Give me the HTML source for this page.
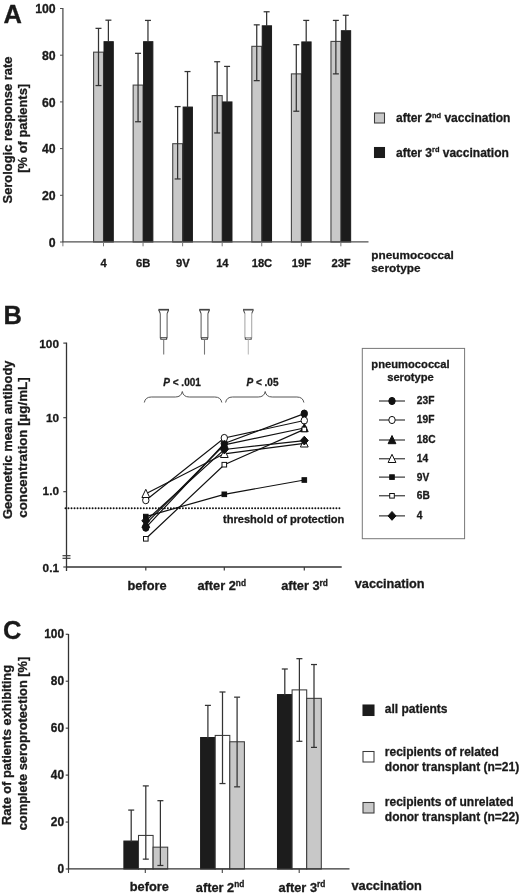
<!DOCTYPE html>
<html><head><meta charset="utf-8"><title>Figure</title>
<style>
html,body{margin:0;padding:0;background:#fff;}
svg{display:block;}
text{font-family:"Liberation Sans",sans-serif;fill:#1a1a1a;stroke:#1a1a1a;stroke-width:0.3px;}
</style></head><body>
<svg width="520" height="895" viewBox="0 0 520 895">
<rect x="0" y="0" width="520" height="895" fill="#fff"/>
<text x="3.6" y="23" font-size="25.5" text-anchor="start" font-weight="bold" >A</text>
<rect x="93.60" y="52.16" width="9.90" height="189.84" fill="#c8c8c8" stroke="#444" stroke-width="1.1"/>
<rect x="104.00" y="41.69" width="9.30" height="200.31" fill="#1c1c1c" stroke="#1c1c1c" stroke-width="1"/>
<line x1="98.5" y1="28.347499999999997" x2="98.5" y2="85.555" stroke="#333" stroke-width="1.25" />
<line x1="95.5" y1="28.347499999999997" x2="101.5" y2="28.347499999999997" stroke="#333" stroke-width="1.25" />
<line x1="95.5" y1="85.555" x2="101.5" y2="85.555" stroke="#333" stroke-width="1.25" />
<line x1="108.4" y1="20.17500000000001" x2="108.4" y2="42.19" stroke="#333" stroke-width="1.25" />
<line x1="105.4" y1="20.17500000000001" x2="111.4" y2="20.17500000000001" stroke="#333" stroke-width="1.25" />
<rect x="133.16" y="85.09" width="9.90" height="156.91" fill="#c8c8c8" stroke="#444" stroke-width="1.1"/>
<rect x="143.56" y="41.69" width="9.30" height="200.31" fill="#1c1c1c" stroke="#1c1c1c" stroke-width="1"/>
<line x1="138.06" y1="53.33200000000002" x2="138.06" y2="121.7475" stroke="#333" stroke-width="1.25" />
<line x1="135.06" y1="53.33200000000002" x2="141.06" y2="53.33200000000002" stroke="#333" stroke-width="1.25" />
<line x1="135.06" y1="121.7475" x2="141.06" y2="121.7475" stroke="#333" stroke-width="1.25" />
<line x1="147.96" y1="20.408500000000004" x2="147.96" y2="42.19" stroke="#333" stroke-width="1.25" />
<line x1="144.96" y1="20.408500000000004" x2="150.96" y2="20.408500000000004" stroke="#333" stroke-width="1.25" />
<rect x="172.72" y="143.70" width="9.90" height="98.30" fill="#c8c8c8" stroke="#444" stroke-width="1.1"/>
<rect x="183.12" y="107.07" width="9.30" height="134.93" fill="#1c1c1c" stroke="#1c1c1c" stroke-width="1"/>
<line x1="177.62" y1="106.57" x2="177.62" y2="178.95499999999998" stroke="#333" stroke-width="1.25" />
<line x1="174.62" y1="106.57" x2="180.62" y2="106.57" stroke="#333" stroke-width="1.25" />
<line x1="174.62" y1="178.95499999999998" x2="180.62" y2="178.95499999999998" stroke="#333" stroke-width="1.25" />
<line x1="187.52" y1="71.54500000000002" x2="187.52" y2="107.57" stroke="#333" stroke-width="1.25" />
<line x1="184.52" y1="71.54500000000002" x2="190.52" y2="71.54500000000002" stroke="#333" stroke-width="1.25" />
<rect x="212.28" y="95.60" width="9.90" height="146.40" fill="#c8c8c8" stroke="#444" stroke-width="1.1"/>
<rect x="222.68" y="101.93" width="9.30" height="140.07" fill="#1c1c1c" stroke="#1c1c1c" stroke-width="1"/>
<line x1="217.18" y1="61.738" x2="217.18" y2="132.9555" stroke="#333" stroke-width="1.25" />
<line x1="214.18" y1="61.738" x2="220.18" y2="61.738" stroke="#333" stroke-width="1.25" />
<line x1="214.18" y1="132.9555" x2="220.18" y2="132.9555" stroke="#333" stroke-width="1.25" />
<line x1="227.08" y1="66.40799999999999" x2="227.08" y2="102.43299999999999" stroke="#333" stroke-width="1.25" />
<line x1="224.08" y1="66.40799999999999" x2="230.08" y2="66.40799999999999" stroke="#333" stroke-width="1.25" />
<rect x="251.84" y="46.33" width="9.90" height="195.67" fill="#c8c8c8" stroke="#444" stroke-width="1.1"/>
<rect x="262.24" y="25.81" width="9.30" height="216.19" fill="#1c1c1c" stroke="#1c1c1c" stroke-width="1"/>
<line x1="256.74" y1="24.845" x2="256.74" y2="80.65150000000003" stroke="#333" stroke-width="1.25" />
<line x1="253.74" y1="24.845" x2="259.74" y2="24.845" stroke="#333" stroke-width="1.25" />
<line x1="253.74" y1="80.65150000000003" x2="259.74" y2="80.65150000000003" stroke="#333" stroke-width="1.25" />
<line x1="266.64" y1="11.769000000000005" x2="266.64" y2="26.312000000000012" stroke="#333" stroke-width="1.25" />
<line x1="263.64" y1="11.769000000000005" x2="269.64" y2="11.769000000000005" stroke="#333" stroke-width="1.25" />
<rect x="291.40" y="73.88" width="9.90" height="168.12" fill="#c8c8c8" stroke="#444" stroke-width="1.1"/>
<rect x="301.80" y="41.92" width="9.30" height="200.08" fill="#1c1c1c" stroke="#1c1c1c" stroke-width="1"/>
<line x1="296.3" y1="44.692499999999995" x2="296.3" y2="111.24000000000001" stroke="#333" stroke-width="1.25" />
<line x1="293.3" y1="44.692499999999995" x2="299.3" y2="44.692499999999995" stroke="#333" stroke-width="1.25" />
<line x1="293.3" y1="111.24000000000001" x2="299.3" y2="111.24000000000001" stroke="#333" stroke-width="1.25" />
<line x1="306.2" y1="20.408500000000004" x2="306.2" y2="42.42349999999999" stroke="#333" stroke-width="1.25" />
<line x1="303.2" y1="20.408500000000004" x2="309.2" y2="20.408500000000004" stroke="#333" stroke-width="1.25" />
<rect x="330.96" y="41.42" width="9.90" height="200.58" fill="#c8c8c8" stroke="#444" stroke-width="1.1"/>
<rect x="341.36" y="30.72" width="9.30" height="211.28" fill="#1c1c1c" stroke="#1c1c1c" stroke-width="1"/>
<line x1="335.86" y1="20.408500000000004" x2="335.86" y2="73.88" stroke="#333" stroke-width="1.25" />
<line x1="332.86" y1="20.408500000000004" x2="338.86" y2="20.408500000000004" stroke="#333" stroke-width="1.25" />
<line x1="332.86" y1="73.88" x2="338.86" y2="73.88" stroke="#333" stroke-width="1.25" />
<line x1="345.76" y1="15.271500000000003" x2="345.76" y2="31.21549999999999" stroke="#333" stroke-width="1.25" />
<line x1="342.76" y1="15.271500000000003" x2="348.76" y2="15.271500000000003" stroke="#333" stroke-width="1.25" />
<line x1="62.9" y1="8" x2="62.9" y2="242.5" stroke="#505050" stroke-width="1.3" />
<line x1="62.5" y1="241.8" x2="368.5" y2="241.8" stroke="#505050" stroke-width="1.3" />
<line x1="60" y1="242.0" x2="63" y2="242.0" stroke="#505050" stroke-width="1" />
<text x="55.7" y="246.8" font-size="12.3" text-anchor="end" font-weight="bold" >0</text>
<line x1="60" y1="195.3" x2="63" y2="195.3" stroke="#505050" stroke-width="1" />
<text x="55.7" y="200.10000000000002" font-size="12.3" text-anchor="end" font-weight="bold" >20</text>
<line x1="60" y1="148.6" x2="63" y2="148.6" stroke="#505050" stroke-width="1" />
<text x="55.7" y="153.4" font-size="12.3" text-anchor="end" font-weight="bold" >40</text>
<line x1="60" y1="101.9" x2="63" y2="101.9" stroke="#505050" stroke-width="1" />
<text x="55.7" y="106.7" font-size="12.3" text-anchor="end" font-weight="bold" >60</text>
<line x1="60" y1="55.19999999999999" x2="63" y2="55.19999999999999" stroke="#505050" stroke-width="1" />
<text x="55.7" y="59.999999999999986" font-size="12.3" text-anchor="end" font-weight="bold" >80</text>
<line x1="60" y1="8.5" x2="63" y2="8.5" stroke="#505050" stroke-width="1" />
<text x="55.7" y="13.3" font-size="12.3" text-anchor="end" font-weight="bold" >100</text>
<line x1="103.5" y1="242" x2="103.5" y2="246.3" stroke="#777" stroke-width="1" />
<line x1="143.06" y1="242" x2="143.06" y2="246.3" stroke="#777" stroke-width="1" />
<line x1="182.62" y1="242" x2="182.62" y2="246.3" stroke="#777" stroke-width="1" />
<line x1="222.18" y1="242" x2="222.18" y2="246.3" stroke="#777" stroke-width="1" />
<line x1="261.74" y1="242" x2="261.74" y2="246.3" stroke="#777" stroke-width="1" />
<line x1="301.3" y1="242" x2="301.3" y2="246.3" stroke="#777" stroke-width="1" />
<line x1="340.86" y1="242" x2="340.86" y2="246.3" stroke="#777" stroke-width="1" />
<line x1="62.9" y1="242" x2="62.9" y2="246.3" stroke="#777" stroke-width="1" />
<text x="103.7" y="266.9" font-size="11.2" text-anchor="middle" font-weight="bold" >4</text>
<text x="143.26" y="266.9" font-size="11.2" text-anchor="middle" font-weight="bold" >6B</text>
<text x="182.82" y="266.9" font-size="11.2" text-anchor="middle" font-weight="bold" >9V</text>
<text x="222.38" y="266.9" font-size="11.2" text-anchor="middle" font-weight="bold" >14</text>
<text x="261.94" y="266.9" font-size="11.2" text-anchor="middle" font-weight="bold" >18C</text>
<text x="301.5" y="266.9" font-size="11.2" text-anchor="middle" font-weight="bold" >19F</text>
<text x="341.06" y="266.9" font-size="11.2" text-anchor="middle" font-weight="bold" >23F</text>
<text x="371.3" y="258.7" font-size="11.8" text-anchor="start" font-weight="bold" >pneumococcal</text>
<text x="371.3" y="272.4" font-size="11.8" text-anchor="start" font-weight="bold" >serotype</text>
<text transform="translate(12.3 130) rotate(-90)" font-size="12.9" text-anchor="middle" font-weight="bold">Serologic response rate</text>
<text transform="translate(27 128.3) rotate(-90)" font-size="12.9" text-anchor="middle" font-weight="bold">[% of patients]</text>
<rect x="374.50" y="113.00" width="10.00" height="10.00" fill="#c8c8c8" stroke="#3a3a3a" stroke-width="1.05"/>
<rect x="374.50" y="147.50" width="10.00" height="10.00" fill="#1c1c1c" stroke="#1c1c1c" stroke-width="1.05"/>
<text x="396" y="122" font-size="12" text-anchor="start" font-weight="bold" >after 2<tspan font-size="7.4" dy="-4.1">nd</tspan><tspan dy="4.1"> vaccination</tspan></text>
<text x="396" y="156.5" font-size="12" text-anchor="start" font-weight="bold" >after 3<tspan font-size="7.4" dy="-4.1">rd</tspan><tspan dy="4.1"> vaccination</tspan></text>
<text x="3.4" y="324" font-size="25.5" text-anchor="start" font-weight="bold" >B</text>
<line x1="66.5" y1="342.6" x2="66.5" y2="571" stroke="#333" stroke-width="1.3" />
<line x1="66.0" y1="567" x2="341.7" y2="567" stroke="#333" stroke-width="1.4" />
<line x1="63.3" y1="343.1" x2="66.5" y2="343.1" stroke="#333" stroke-width="1.1" />
<text x="59.0" y="347.9" font-size="11.8" text-anchor="end" font-weight="bold" >100</text>
<line x1="63.3" y1="417.7" x2="66.5" y2="417.7" stroke="#333" stroke-width="1.1" />
<text x="59.0" y="422.2" font-size="11.8" text-anchor="end" font-weight="bold" >10</text>
<line x1="63.3" y1="491.7" x2="66.5" y2="491.7" stroke="#333" stroke-width="1.1" />
<text x="59.0" y="495.1" font-size="11.8" text-anchor="end" font-weight="bold" >1.0</text>
<line x1="63.3" y1="567" x2="66.5" y2="567" stroke="#333" stroke-width="1.1" />
<text x="59.0" y="571.7" font-size="11.8" text-anchor="end" font-weight="bold" >0.1</text>
<line x1="62.5" y1="555.7" x2="70.5" y2="555.7" stroke="#3a3a3a" stroke-width="1.2" />
<line x1="62.5" y1="558.3" x2="70.5" y2="558.3" stroke="#3a3a3a" stroke-width="1.2" />
<line x1="65.5" y1="508.2" x2="342" y2="508.2" stroke="#111" stroke-width="1.95" stroke-linecap="round" stroke-dasharray="0.01 3"/>
<text x="223" y="522.7" font-size="11.08" text-anchor="start" font-weight="bold" >threshold of protection</text>
<line x1="145.8" y1="567" x2="145.8" y2="570.5" stroke="#3a3a3a" stroke-width="1.2" />
<line x1="224.3" y1="567" x2="224.3" y2="570.5" stroke="#3a3a3a" stroke-width="1.2" />
<line x1="304.3" y1="567" x2="304.3" y2="570.5" stroke="#3a3a3a" stroke-width="1.2" />
<text x="147" y="589.6" font-size="12.8" text-anchor="middle" font-weight="bold" >before</text>
<text x="197.4" y="589.6" font-size="12.8" text-anchor="start" font-weight="bold" >after 2<tspan font-size="8.3" dy="-4.1">nd</tspan></text>
<text x="281.2" y="589.6" font-size="12.8" text-anchor="start" font-weight="bold" >after 3<tspan font-size="8.3" dy="-4.1">rd</tspan></text>
<text x="354.8" y="588.3" font-size="12.7" text-anchor="start" font-weight="bold" >vaccination</text>
<text transform="translate(11.5 439.8) rotate(-90)" font-size="12.92" text-anchor="middle" font-weight="bold">Geometric mean antibody</text>
<text transform="translate(26.9 447.6) rotate(-90)" font-size="13.35" text-anchor="middle" font-weight="bold">concentration [µg/mL]</text>
<polyline points="145.8,527.7 224.3,443.5 304.3,413.6" fill="none" stroke="#111" stroke-width="1.2"/>
<ellipse cx="145.8" cy="527.7" rx="3.2" ry="3.6" fill="#111" stroke="#111" stroke-width="1"/>
<ellipse cx="224.3" cy="443.5" rx="3.2" ry="3.6" fill="#111" stroke="#111" stroke-width="1"/>
<ellipse cx="304.3" cy="413.6" rx="3.2" ry="3.6" fill="#111" stroke="#111" stroke-width="1"/>
<polyline points="145.8,500.2 224.3,438 304.3,420.5" fill="none" stroke="#111" stroke-width="1.2"/>
<ellipse cx="145.8" cy="500.2" rx="3.2" ry="3.6" fill="#fff" stroke="#111" stroke-width="1"/>
<ellipse cx="224.3" cy="438" rx="3.2" ry="3.6" fill="#fff" stroke="#111" stroke-width="1"/>
<ellipse cx="304.3" cy="420.5" rx="3.2" ry="3.6" fill="#fff" stroke="#111" stroke-width="1"/>
<polyline points="145.8,523.8 224.3,444.8 304.3,428" fill="none" stroke="#111" stroke-width="1.2"/>
<path d="M145.8 519.3 L149.70000000000002 527.5 L141.9 527.5 Z" fill="#111" stroke="#111" stroke-width="1"/>
<path d="M224.3 440.3 L228.20000000000002 448.5 L220.4 448.5 Z" fill="#111" stroke="#111" stroke-width="1"/>
<path d="M304.3 423.5 L308.2 431.7 L300.40000000000003 431.7 Z" fill="#111" stroke="#111" stroke-width="1"/>
<polyline points="145.8,493.8 224.3,453.8 304.3,443.3" fill="none" stroke="#111" stroke-width="1.2"/>
<path d="M145.8 489.3 L149.70000000000002 497.5 L141.9 497.5 Z" fill="#fff" stroke="#111" stroke-width="1"/>
<path d="M224.3 449.3 L228.20000000000002 457.5 L220.4 457.5 Z" fill="#fff" stroke="#111" stroke-width="1"/>
<path d="M304.3 438.8 L308.2 447.0 L300.40000000000003 447.0 Z" fill="#fff" stroke="#111" stroke-width="1"/>
<polyline points="145.8,516.6 224.3,494.3 304.3,480" fill="none" stroke="#111" stroke-width="1.2"/>
<rect x="143.5" y="514.3000000000001" width="4.6" height="4.6" fill="#111" stroke="#111" stroke-width="1"/>
<rect x="222.0" y="492.0" width="4.6" height="4.6" fill="#111" stroke="#111" stroke-width="1"/>
<rect x="302.0" y="477.7" width="4.6" height="4.6" fill="#111" stroke="#111" stroke-width="1"/>
<polyline points="145.8,538.8 224.3,464.7 304.3,429.4" fill="none" stroke="#111" stroke-width="1.2"/>
<rect x="143.5" y="536.5" width="4.6" height="4.6" fill="#fff" stroke="#111" stroke-width="1"/>
<rect x="222.0" y="462.4" width="4.6" height="4.6" fill="#fff" stroke="#111" stroke-width="1"/>
<rect x="302.0" y="427.09999999999997" width="4.6" height="4.6" fill="#fff" stroke="#111" stroke-width="1"/>
<polyline points="145.8,520.8 224.3,449.5 304.3,440.6" fill="none" stroke="#111" stroke-width="1.2"/>
<path d="M145.8 516.4 L149.8 520.8 L145.8 525.1999999999999 L141.8 520.8 Z" fill="#111" stroke="#111" stroke-width="1"/>
<path d="M224.3 445.1 L228.3 449.5 L224.3 453.9 L220.3 449.5 Z" fill="#111" stroke="#111" stroke-width="1"/>
<path d="M304.3 436.20000000000005 L308.3 440.6 L304.3 445.0 L300.3 440.6 Z" fill="#111" stroke="#111" stroke-width="1"/>
<text x="163.3" y="386" font-size="10" text-anchor="start" font-weight="bold" ><tspan font-style="italic">P</tspan> &lt; .001</text>
<text x="246.5" y="386" font-size="10" text-anchor="start" font-weight="bold" ><tspan font-style="italic">P</tspan> &lt; .05</text>
<path d="M144.3 402.5 Q145.3 397 151.3 397 L175.3 397 Q181.3 397 182.3 391.5 Q183.3 397 189.3 397 L214.8 397 Q220.8 397 221.8 402.5" fill="none" stroke="#555" stroke-width="1"/>
<path d="M225.6 402.5 Q226.6 397 232.6 397 L258.2 397 Q264.2 397 265.2 391.5 Q266.2 397 272.2 397 L296.9 397 Q302.9 397 303.9 402.5" fill="none" stroke="#555" stroke-width="1"/>
<g fill="none"><path d="M158.39999999999998 309.7 H169.0" stroke="#444" stroke-width="1.7"/><path d="M158.79999999999998 310 L160.29999999999998 313.6 M168.6 310 L167.1 313.6" stroke="#444" stroke-width="1.1"/><path d="M160.29999999999998 313.4 V337.6 H167.1 V313.4" stroke="#666" stroke-width="1.1"/><path d="M160.79999999999998 337.6 V339.2 H166.6 V337.6" stroke="#444" stroke-width="1.1"/><line x1="163.7" y1="339.5" x2="163.7" y2="354.6" stroke="#777" stroke-width="1.1"/></g>
<g fill="none"><path d="M199.2 309.7 H209.8" stroke="#444" stroke-width="1.7"/><path d="M199.6 310 L201.1 313.6 M209.4 310 L207.9 313.6" stroke="#444" stroke-width="1.1"/><path d="M201.1 313.4 V337.6 H207.9 V313.4" stroke="#666" stroke-width="1.1"/><path d="M201.6 337.6 V339.2 H207.4 V337.6" stroke="#444" stroke-width="1.1"/><line x1="204.5" y1="339.5" x2="204.5" y2="354.6" stroke="#777" stroke-width="1.1"/></g>
<g fill="none"><path d="M243.0 309.7 H253.60000000000002" stroke="#555" stroke-width="1.7"/><path d="M243.4 310 L244.9 313.6 M253.20000000000002 310 L251.70000000000002 313.6" stroke="#555" stroke-width="1.1"/><path d="M244.9 313.4 V337.6 H251.70000000000002 V313.4" stroke="#aaa" stroke-width="1.1"/><path d="M245.4 337.6 V339.2 H251.20000000000002 V337.6" stroke="#555" stroke-width="1.1"/><line x1="248.3" y1="339.5" x2="248.3" y2="354.6" stroke="#bbb" stroke-width="1.1"/></g>
<rect x="362.30" y="348.40" width="102.30" height="190.30" fill="none" stroke="#777" stroke-width="1"/>
<text x="410.5" y="367.9" font-size="11.2" text-anchor="middle" font-weight="bold" >pneumococcal</text>
<text x="410.5" y="381" font-size="11.2" text-anchor="middle" font-weight="bold" >serotype</text>
<line x1="379" y1="401" x2="405" y2="401" stroke="#111" stroke-width="1" />
<ellipse cx="392" cy="401" rx="3.2" ry="3.6" fill="#111" stroke="#111" stroke-width="1"/>
<text x="416.8" y="404.4" font-size="10.2" text-anchor="start" font-weight="bold" >23F</text>
<line x1="379" y1="420" x2="405" y2="420" stroke="#111" stroke-width="1" />
<ellipse cx="392" cy="420" rx="3.2" ry="3.6" fill="#fff" stroke="#111" stroke-width="1"/>
<text x="416.8" y="423.4" font-size="10.2" text-anchor="start" font-weight="bold" >19F</text>
<line x1="379" y1="440" x2="405" y2="440" stroke="#111" stroke-width="1" />
<path d="M392 435.5 L395.9 443.7 L388.1 443.7 Z" fill="#111" stroke="#111" stroke-width="1"/>
<text x="416.8" y="443.4" font-size="10.2" text-anchor="start" font-weight="bold" >18C</text>
<line x1="379" y1="458.8" x2="405" y2="458.8" stroke="#111" stroke-width="1" />
<path d="M392 454.3 L395.9 462.5 L388.1 462.5 Z" fill="#fff" stroke="#111" stroke-width="1"/>
<text x="416.8" y="462.2" font-size="10.2" text-anchor="start" font-weight="bold" >14</text>
<line x1="379" y1="477.1" x2="405" y2="477.1" stroke="#111" stroke-width="1" />
<rect x="389.7" y="474.8" width="4.6" height="4.6" fill="#111" stroke="#111" stroke-width="1"/>
<text x="416.8" y="480.5" font-size="10.2" text-anchor="start" font-weight="bold" >9V</text>
<line x1="379" y1="495.8" x2="405" y2="495.8" stroke="#111" stroke-width="1" />
<rect x="389.7" y="493.5" width="4.6" height="4.6" fill="#fff" stroke="#111" stroke-width="1"/>
<text x="416.8" y="499.2" font-size="10.2" text-anchor="start" font-weight="bold" >6B</text>
<line x1="379" y1="515.9" x2="405" y2="515.9" stroke="#111" stroke-width="1" />
<path d="M392 511.5 L396 515.9 L392 520.3 L388 515.9 Z" fill="#111" stroke="#111" stroke-width="1"/>
<text x="416.8" y="519.3" font-size="10.2" text-anchor="start" font-weight="bold" >4</text>
<text x="3" y="638.8" font-size="25.5" text-anchor="start" font-weight="bold" >C</text>
<rect x="123.90" y="841.06" width="14.60" height="27.94" fill="#1c1c1c" stroke="#1c1c1c" stroke-width="1.05"/>
<rect x="138.50" y="835.43" width="14.60" height="33.57" fill="#fff" stroke="#3a3a3a" stroke-width="1.05"/>
<rect x="153.10" y="847.17" width="14.60" height="21.83" fill="#c8c8c8" stroke="#3a3a3a" stroke-width="1.05"/>
<line x1="131.20000000000002" y1="810.07775" x2="131.20000000000002" y2="842.06475" stroke="#333" stroke-width="1.25" />
<line x1="128.20000000000002" y1="810.07775" x2="134.20000000000002" y2="810.07775" stroke="#333" stroke-width="1.25" />
<line x1="145.8" y1="785.8985" x2="145.8" y2="859.1405" stroke="#333" stroke-width="1.25" />
<line x1="142.8" y1="785.8985" x2="148.8" y2="785.8985" stroke="#333" stroke-width="1.25" />
<line x1="142.8" y1="859.1405" x2="148.8" y2="859.1405" stroke="#333" stroke-width="1.25" />
<line x1="160.4" y1="800.68775" x2="160.4" y2="865.47875" stroke="#333" stroke-width="1.25" />
<line x1="157.4" y1="800.68775" x2="163.4" y2="800.68775" stroke="#333" stroke-width="1.25" />
<line x1="157.4" y1="865.47875" x2="163.4" y2="865.47875" stroke="#333" stroke-width="1.25" />
<rect x="200.60" y="737.54" width="14.60" height="131.46" fill="#1c1c1c" stroke="#1c1c1c" stroke-width="1.05"/>
<rect x="215.20" y="735.43" width="14.60" height="133.57" fill="#fff" stroke="#3a3a3a" stroke-width="1.05"/>
<rect x="229.80" y="741.77" width="14.60" height="127.23" fill="#c8c8c8" stroke="#3a3a3a" stroke-width="1.05"/>
<line x1="207.9" y1="705.37925" x2="207.9" y2="738.54" stroke="#333" stroke-width="1.25" />
<line x1="204.9" y1="705.37925" x2="210.9" y2="705.37925" stroke="#333" stroke-width="1.25" />
<line x1="222.5" y1="691.9984999999999" x2="222.5" y2="783.551" stroke="#333" stroke-width="1.25" />
<line x1="219.5" y1="691.9984999999999" x2="225.5" y2="691.9984999999999" stroke="#333" stroke-width="1.25" />
<line x1="219.5" y1="783.551" x2="225.5" y2="783.551" stroke="#333" stroke-width="1.25" />
<line x1="237.1" y1="697.163" x2="237.1" y2="786.8375" stroke="#333" stroke-width="1.25" />
<line x1="234.1" y1="697.163" x2="240.1" y2="697.163" stroke="#333" stroke-width="1.25" />
<line x1="234.1" y1="786.8375" x2="240.1" y2="786.8375" stroke="#333" stroke-width="1.25" />
<rect x="277.50" y="694.58" width="14.60" height="174.42" fill="#1c1c1c" stroke="#1c1c1c" stroke-width="1.05"/>
<rect x="292.10" y="689.89" width="14.60" height="179.11" fill="#fff" stroke="#3a3a3a" stroke-width="1.05"/>
<rect x="306.70" y="698.34" width="14.60" height="170.66" fill="#c8c8c8" stroke="#3a3a3a" stroke-width="1.05"/>
<line x1="284.8" y1="668.9929999999999" x2="284.8" y2="695.58075" stroke="#333" stroke-width="1.25" />
<line x1="281.8" y1="668.9929999999999" x2="287.8" y2="668.9929999999999" stroke="#333" stroke-width="1.25" />
<line x1="299.4" y1="658.664" x2="299.4" y2="741.296" stroke="#333" stroke-width="1.25" />
<line x1="296.4" y1="658.664" x2="302.4" y2="658.664" stroke="#333" stroke-width="1.25" />
<line x1="296.4" y1="741.296" x2="302.4" y2="741.296" stroke="#333" stroke-width="1.25" />
<line x1="314.0" y1="664.53275" x2="314.0" y2="747.3995" stroke="#333" stroke-width="1.25" />
<line x1="311.0" y1="664.53275" x2="317.0" y2="664.53275" stroke="#333" stroke-width="1.25" />
<line x1="311.0" y1="747.3995" x2="317.0" y2="747.3995" stroke="#333" stroke-width="1.25" />
<line x1="68.5" y1="634" x2="68.5" y2="869.5" stroke="#333" stroke-width="1.3" />
<line x1="68.0" y1="868.8" x2="349.5" y2="868.8" stroke="#333" stroke-width="1.3" />
<line x1="65.7" y1="869.0" x2="68.5" y2="869.0" stroke="#333" stroke-width="1.1" />
<text x="64.0" y="872.9" font-size="11.9" text-anchor="end" font-weight="bold" >0</text>
<line x1="65.7" y1="822.05" x2="68.5" y2="822.05" stroke="#333" stroke-width="1.1" />
<text x="64.0" y="825.9499999999999" font-size="11.9" text-anchor="end" font-weight="bold" >20</text>
<line x1="65.7" y1="775.1" x2="68.5" y2="775.1" stroke="#333" stroke-width="1.1" />
<text x="64.0" y="779.0" font-size="11.9" text-anchor="end" font-weight="bold" >40</text>
<line x1="65.7" y1="728.15" x2="68.5" y2="728.15" stroke="#333" stroke-width="1.1" />
<text x="64.0" y="732.05" font-size="11.9" text-anchor="end" font-weight="bold" >60</text>
<line x1="65.7" y1="681.2" x2="68.5" y2="681.2" stroke="#333" stroke-width="1.1" />
<text x="64.0" y="685.1" font-size="11.9" text-anchor="end" font-weight="bold" >80</text>
<line x1="65.7" y1="634.25" x2="68.5" y2="634.25" stroke="#333" stroke-width="1.1" />
<text x="64.0" y="638.15" font-size="11.9" text-anchor="end" font-weight="bold" >100</text>
<line x1="68.5" y1="869" x2="68.5" y2="873" stroke="#444" stroke-width="1.1" />
<line x1="145.3" y1="869" x2="145.3" y2="873" stroke="#444" stroke-width="1.1" />
<line x1="222.3" y1="869" x2="222.3" y2="873" stroke="#444" stroke-width="1.1" />
<line x1="299.2" y1="869" x2="299.2" y2="873" stroke="#444" stroke-width="1.1" />
<text x="149.3" y="891" font-size="12.8" text-anchor="middle" font-weight="bold" >before</text>
<text x="195.8" y="891.5" font-size="12.8" text-anchor="start" font-weight="bold" >after 2<tspan font-size="8.3" dy="-4.1">nd</tspan></text>
<text x="278.6" y="891.5" font-size="12.8" text-anchor="start" font-weight="bold" >after 3<tspan font-size="8.3" dy="-4.1">rd</tspan></text>
<text x="351.5" y="890" font-size="12.8" text-anchor="start" font-weight="bold" >vaccination</text>
<text transform="translate(10.6 745) rotate(-90)" font-size="12.8" text-anchor="middle" font-weight="bold">Rate of patients exhibiting</text>
<text transform="translate(26.5 743.5) rotate(-90)" font-size="12.87" text-anchor="middle" font-weight="bold">complete seroprotection [%]</text>
<rect x="363.00" y="705.00" width="11.00" height="10.50" fill="#1c1c1c" stroke="#1c1c1c" stroke-width="1.05"/>
<rect x="363.00" y="751.50" width="11.00" height="10.50" fill="#fff" stroke="#3a3a3a" stroke-width="1.05"/>
<rect x="363.00" y="802.50" width="11.00" height="10.50" fill="#c8c8c8" stroke="#3a3a3a" stroke-width="1.05"/>
<text x="384.8" y="712.5" font-size="12" text-anchor="start" font-weight="bold" >all patients</text>
<text x="384.8" y="755.6" font-size="12" text-anchor="start" font-weight="bold" >recipients of related</text>
<text x="384.8" y="771" font-size="12" text-anchor="start" font-weight="bold" >donor transplant (n=21)</text>
<text x="384.8" y="805.7" font-size="12" text-anchor="start" font-weight="bold" >recipients of unrelated</text>
<text x="384.8" y="821" font-size="12" text-anchor="start" font-weight="bold" >donor transplant (n=22)</text>
</svg>
</body></html>
